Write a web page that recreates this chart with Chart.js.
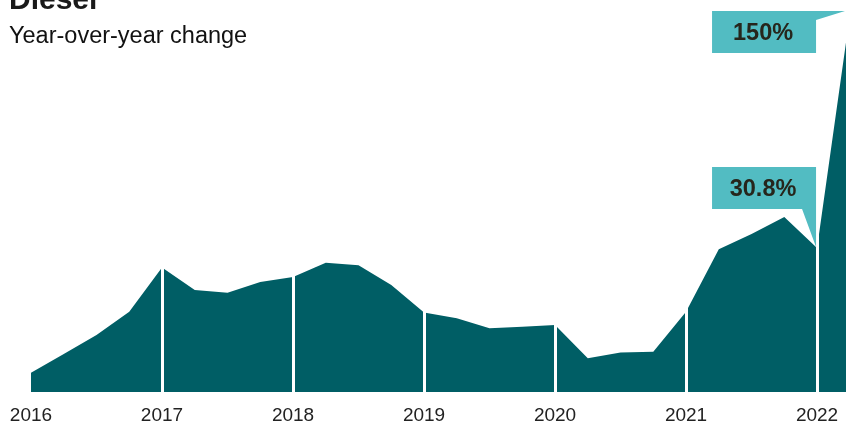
<!DOCTYPE html>
<html lang="en">
<head>
    <meta charset="UTF-8">
    <title>Diesel</title>
    <script src="https://cdn.jsdelivr.net/npm/chart.js"></script>
    <style>
        body {
            margin: 0;
            background: #fff;
            overflow: hidden;
            font-family: "Liberation Sans", Arial, sans-serif;
        }
        #wrap {
            position: relative;
            width: 846px;
            height: 425px;
            overflow: hidden;
        }
        #wrap canvas {
            position: absolute;
            left: 0;
            top: 0;
        }
        .title {
            position: absolute;
            left: 9px;
            top: -16px;
            margin: 0;
            font-size: 30px;
            line-height: 30px;
            font-weight: bold;
            color: #1a1a1a;
            z-index: 2;
        }
        .subtitle {
            position: absolute;
            left: 9px;
            top: 24px;
            margin: 0;
            font-size: 23.5px;
            line-height: 23.5px;
            color: #111;
            z-index: 2;
        }
    </style>
</head>
<body>
    <div id="wrap">
        <canvas id="diesel-chart" width="846" height="425"></canvas>
        <h1 class="title">Diesel</h1>
        <p class="subtitle">Year-over-year change</p>
    </div>

    <script>
        // Quarterly periods (decimal years) and year-over-year change in %
        const periods = [
            2016, 2016.25, 2016.5, 2016.75,
            2017, 2017.25, 2017.5, 2017.75,
            2018, 2018.25, 2018.5, 2018.75,
            2019, 2019.25, 2019.5, 2019.75,
            2020, 2020.25, 2020.5, 2020.75,
            2021, 2021.25, 2021.5, 2021.75,
            2022, 2022.25
        ];
        const yoyChange = [
            -33.1, -23.5, -13.8, -1.8,
            20.9, 9.3, 7.9, 13.4,
            16.0, 23.3, 22.0, 11.9,
            -2.2, -5.2, -10.3, -9.5,
            -8.6, -25.7, -22.8, -22.3,
            -1.8, 30.2, 38.0, 46.7,
            30.8, 150
        ];
        const yearTicks = ['2016', '2017', '2018', '2019', '2020', '2021', '2022'];

        // Callout labels: [period, value, text]
        const callouts = [
            [2022, 30.8, '30.8%'],
            [2022.25, 150, '150%']
        ];

        const AREA = '#005e65';
        const CALLOUT = '#52bcc2';

        const points = periods.map((p, i) => ({ x: p, y: yoyChange[i] }));

        // Draws the teal boxes with their pointers
        const calloutPlugin = {
            id: 'callouts',
            afterDraw(chart) {
                const { ctx, scales: { x, y } } = chart;
                const yearX = x.getPixelForValue(2022);
                const boxW = 104, boxH = 42;
                ctx.save();
                callouts.forEach(([period, value, text]) => {
                    const py = y.getPixelForValue(value);
                    const right = yearX - 1;
                    let top;
                    ctx.fillStyle = CALLOUT;
                    ctx.beginPath();
                    if (period === 2022) {
                        // box above the point, pointer going down to it
                        top = py - 39 - boxH;
                        ctx.moveTo(right - boxW, top);
                        ctx.lineTo(right, top);
                        ctx.lineTo(right, py - 1);
                        ctx.lineTo(right - 14, top + boxH);
                        ctx.lineTo(right - boxW, top + boxH);
                    } else {
                        // box left of the spike, pointer going right
                        top = py - 4.5;
                        ctx.moveTo(right - boxW, top);
                        ctx.lineTo(chart.chartArea.right - 1, top);
                        ctx.lineTo(right, top + 9);
                        ctx.lineTo(right, top + boxH);
                        ctx.lineTo(right - boxW, top + boxH);
                    }
                    ctx.closePath();
                    ctx.fill();

                    ctx.fillStyle = '#26261c';
                    ctx.font = 'bold 23.5px "Liberation Sans", Arial, sans-serif';
                    ctx.textAlign = 'center';
                    ctx.textBaseline = 'middle';
                    ctx.fillText(text, right - boxW / 2 - 1, top + boxH / 2 + 1);
                });
                ctx.restore();
            }
        };

        const ctx = document.getElementById('diesel-chart').getContext('2d');
        const chart = new Chart(ctx, {
            type: 'line',
            data: {
                datasets: [{
                    data: points,
                    backgroundColor: AREA,
                    borderColor: AREA,
                    borderWidth: 0,
                    pointRadius: 0,
                    tension: 0,
                    fill: 'start'
                }]
            },
            options: {
                responsive: false,
                animation: false,
                devicePixelRatio: 1,
                layout: {
                    padding: { left: 31, right: 0, top: 0, bottom: 0 }
                },
                plugins: {
                    legend: { display: false },
                    tooltip: { enabled: false }
                },
                scales: {
                    x: {
                        type: 'linear',
                        min: 2016,
                        max: 2022.221,
                        border: { display: false },
                        grid: {
                            z: 1,
                            drawTicks: false,
                            lineWidth: 3,
                            color: c => c.index === 0 ? 'rgba(0,0,0,0)' : '#ffffff'
                        },
                        ticks: {
                            stepSize: 1,
                            includeBounds: false,
                            padding: 12,
                            maxRotation: 0,
                            color: '#222',
                            font: { family: '"Liberation Sans", Arial, sans-serif', size: 19 },
                            callback: (v) => Number.isInteger(v) ? yearTicks[v - 2016] : ''
                        },
                        afterFit: (scale) => {
                            scale.height = 33;
                            scale.paddingLeft = 0;
                            scale.paddingRight = 0;
                        }
                    },
                    y: {
                        display: false,
                        min: -43,
                        max: 158
                    }
                }
            },
            plugins: [calloutPlugin]
        });
    </script>
</body>
</html>
